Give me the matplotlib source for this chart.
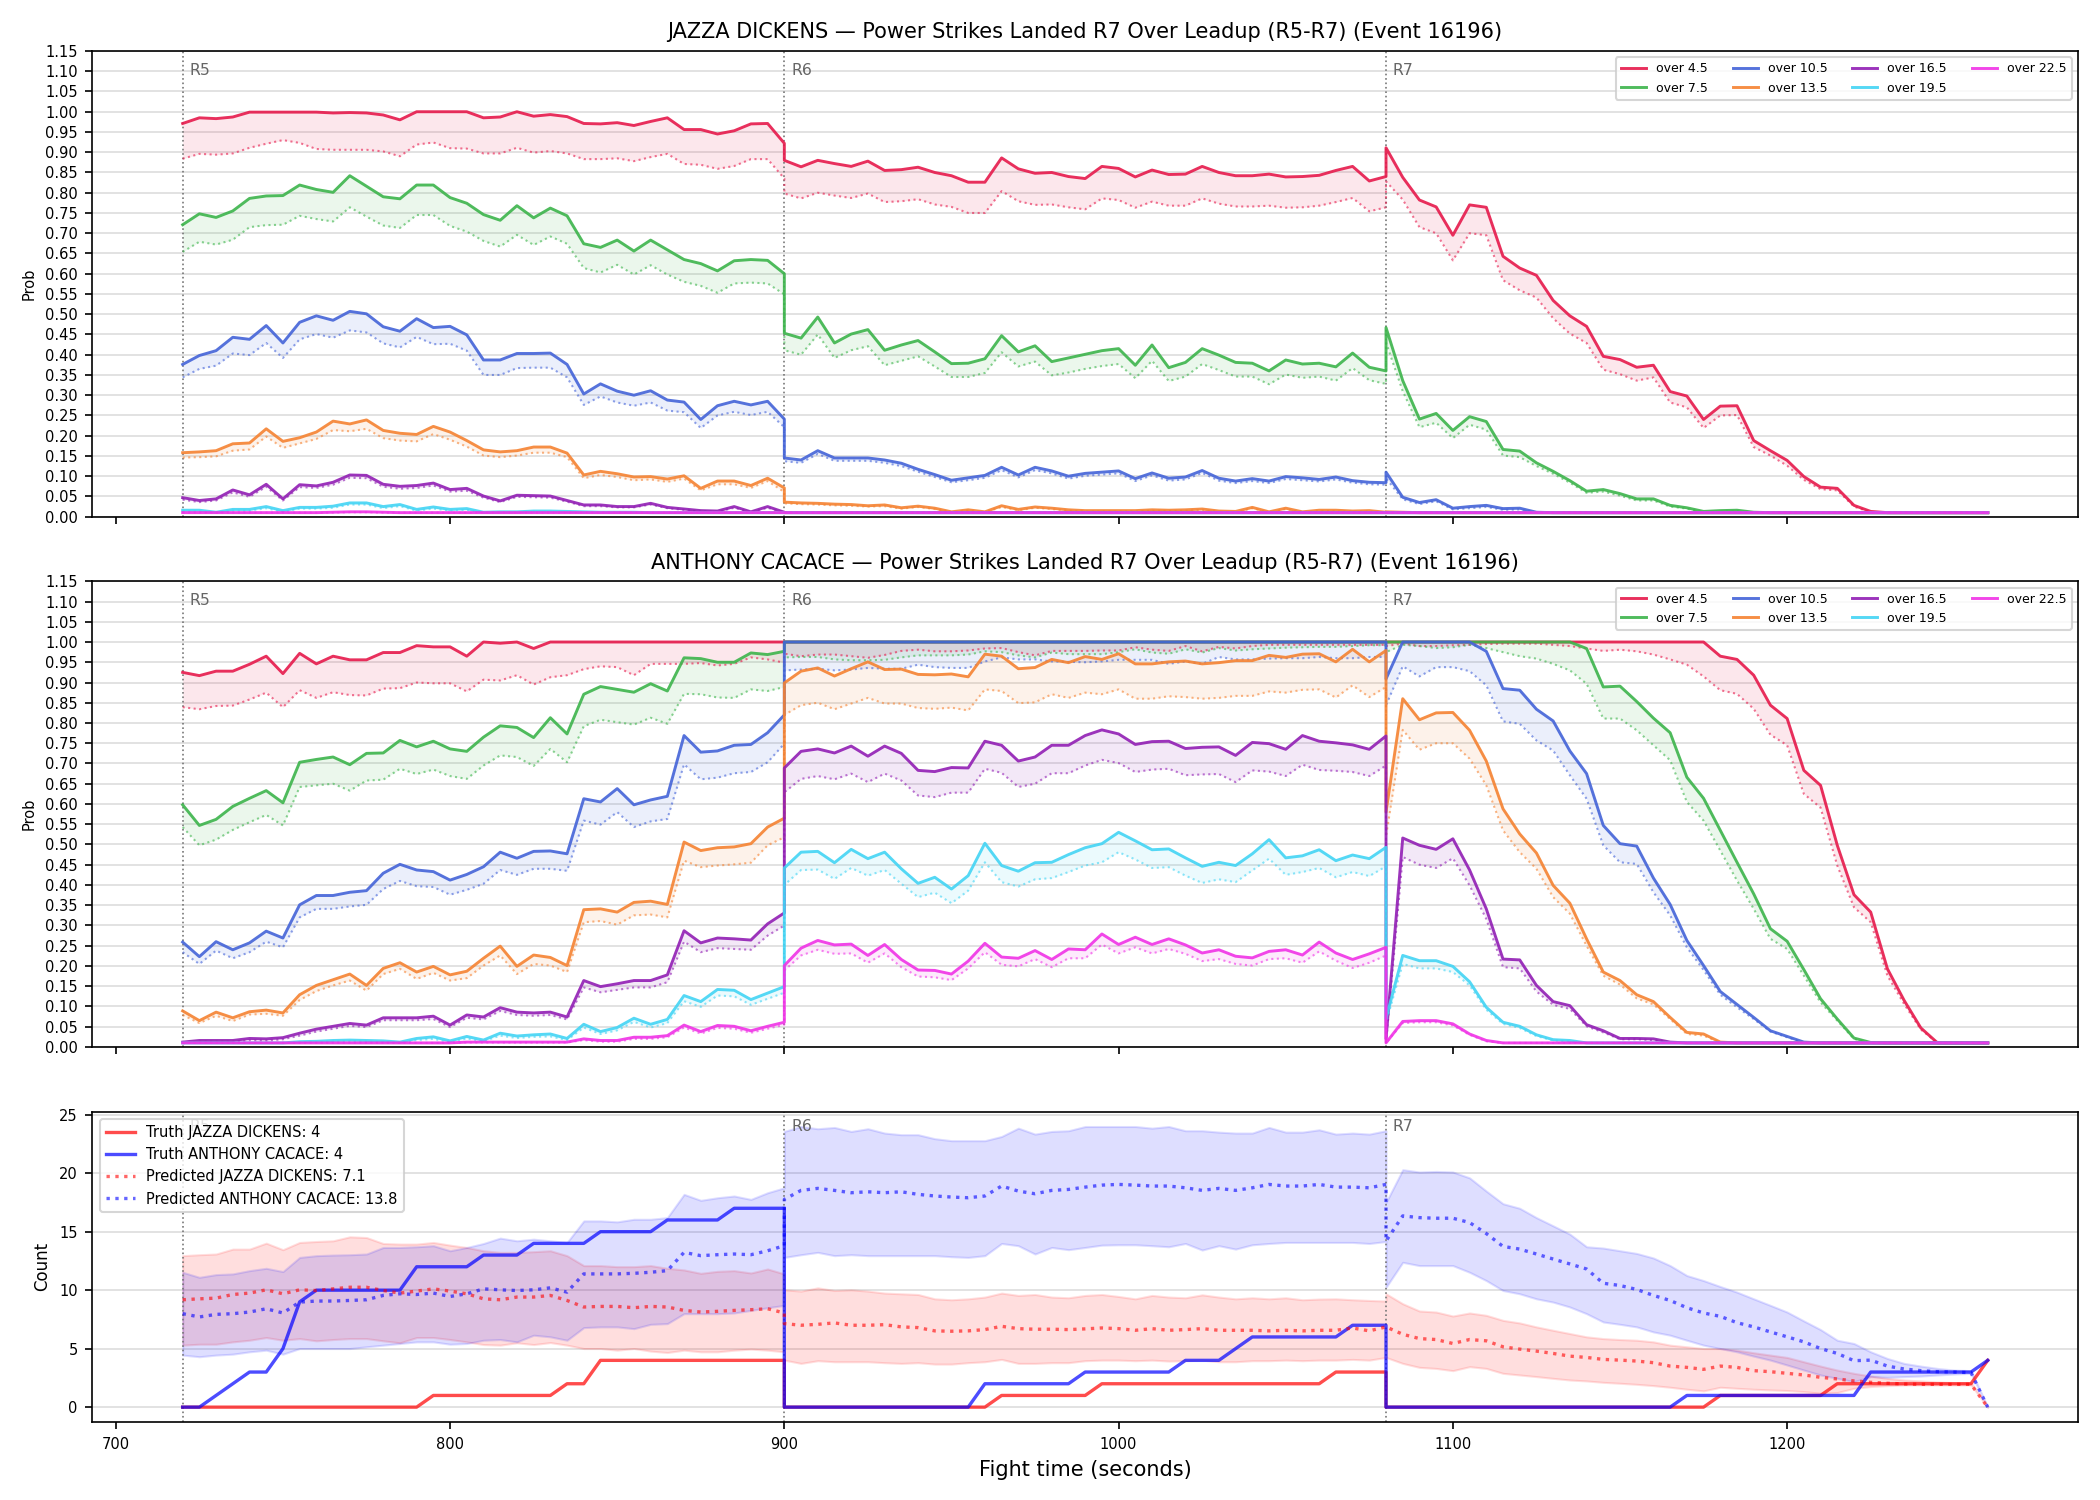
import numpy as np
import matplotlib
matplotlib.use('Agg')
import matplotlib.pyplot as plt
from matplotlib.transforms import blended_transform_factory

# rounds covered by the chart (each round sampled every 5 s, start and end included)
round_names = ['R5', 'R6', 'R7']
round_starts = [720, 900, 1080]
round_len = 180
step = 5

fighters = ['JAZZA DICKENS', 'ANTHONY CACACE']
event_id = 16196
truth_final = [4, 4]
pred_final = [7.1, 13.8]

thresholds = ['over 4.5', 'over 7.5', 'over 10.5', 'over 13.5', 'over 16.5', 'over 19.5', 'over 22.5']
colors = ['#e6194b', '#3cb44b', '#4363d8', '#f58231', '#911eb4', '#42d4f4', '#f032e6']

# ---------------- JAZZA DICKENS: prob (solid) and lower prob (dotted), R5 + R6 + R7
jd_45 = ([.971, .985, .983, .987, .999, .999, .999, .999, .999, .997, .998, .997, .992, .980, 1.0, 1.0, 1.0, 1.0, .985,
          .987, 1.0, .989, .993, .988, .971, .970, .973, .966, .976, .985, .956, .956, .945, .953, .970, .971, .922] +
         [.880, .864, .880, .872, .865, .878, .855, .857, .863, .850, .842, .826, .826, .886, .859, .848, .850, .840, .835,
          .865, .860, .839, .856, .845, .846, .865, .850, .842, .842, .846, .839, .840, .843, .855, .865, .829, .840] +
         [.911, .838, .782, .765, .695, .770, .764, .643, .614, .596, .534, .496, .470, .396, .388, .369, .374, .309, .298,
          .240, .273, .274, .188, .163, .139, .099, .073, .070, .028, .013, .010, .010, .010, .010, .010, .010, .010])
jd_45_lo = ([.884, .896, .894, .897, .911, .921, .930, .923, .908, .906, .906, .906, .902, .890, .919, .924, .910, .909, .897,
             .897, .911, .899, .903, .897, .883, .883, .885, .878, .888, .896, .871, .869, .859, .866, .883, .883, .835] +
            [.798, .786, .800, .793, .787, .798, .777, .779, .784, .771, .765, .750, .750, .804, .779, .770, .771, .764, .759,
             .786, .782, .763, .778, .768, .768, .786, .773, .766, .766, .768, .763, .764, .768, .777, .787, .754, .764] +
            [.828, .783, .715, .700, .633, .700, .695, .584, .559, .541, .490, .452, .429, .363, .352, .336, .344, .282, .270,
             .219, .250, .251, .172, .151, .126, .091, .068, .065, .025, .011, .010, .010, .010, .010, .010, .010, .010])
jd_75 = ([.721, .748, .739, .755, .786, .792, .793, .819, .808, .801, .842, .816, .790, .785, .819, .819, .788, .774, .746,
          .732, .768, .738, .762, .743, .674, .665, .683, .656, .683, .659, .635, .625, .607, .632, .635, .633, .600] +
         [.453, .441, .493, .429, .451, .462, .411, .424, .435, .407, .378, .379, .390, .447, .407, .422, .383, .392, .401,
          .410, .415, .374, .424, .368, .381, .415, .399, .381, .379, .360, .387, .377, .379, .370, .404, .369, .360] +
         [.467, .336, .241, .255, .213, .247, .235, .166, .162, .133, .112, .089, .063, .067, .057, .044, .044, .028, .022,
          .013, .015, .016, .011, .010, .010, .010, .010, .010, .010, .010, .010, .010, .010, .010, .010, .010, .010])
jd_75_lo = ([.654, .679, .672, .684, .715, .720, .721, .743, .735, .729, .764, .741, .719, .713, .745, .745, .718, .704, .681,
             .667, .696, .671, .692, .674, .614, .603, .622, .598, .621, .598, .580, .570, .553, .576, .578, .576, .549] +
            [.411, .400, .450, .392, .411, .421, .374, .385, .396, .371, .345, .345, .355, .406, .371, .383, .349, .356, .365,
             .372, .377, .342, .385, .335, .346, .377, .362, .346, .346, .327, .351, .343, .346, .336, .367, .337, .328] +
            [.430, .310, .221, .232, .194, .227, .215, .151, .147, .125, .106, .084, .059, .062, .052, .040, .040, .025, .020,
             .011, .012, .013, .010, .010, .010, .010, .010, .010, .010, .010, .010, .010, .010, .010, .010, .010, .010])
jd_105 = ([.376, .398, .410, .443, .438, .472, .429, .480, .496, .485, .507, .501, .469, .458, .489, .467, .470, .449, .387,
           .387, .403, .403, .404, .376, .303, .328, .310, .300, .311, .288, .283, .240, .274, .285, .276, .285, .241] +
          [.145, .140, .163, .145, .145, .145, .140, .132, .117, .104, .090, .096, .102, .122, .103, .122, .113, .100, .107,
           .110, .113, .094, .108, .095, .098, .114, .095, .088, .094, .088, .099, .096, .092, .098, .089, .085, .084] +
          [.110, .048, .035, .042, .021, .025, .028, .020, .021, .011, .010, .010, .010, .010, .010, .010, .010, .010, .010,
           .010, .010, .010, .010, .010, .010, .010, .010, .010, .010, .010, .010, .010, .010, .010, .010, .010, .010])
jd_105_lo = ([.344, .365, .373, .403, .399, .429, .392, .438, .451, .442, .460, .455, .428, .418, .444, .426, .427, .410, .350,
              .350, .367, .368, .368, .344, .276, .297, .282, .274, .282, .262, .258, .219, .250, .259, .251, .259, .221] +
             [.137, .133, .155, .138, .138, .138, .133, .125, .111, .098, .085, .090, .096, .115, .097, .115, .107, .094, .101,
              .104, .107, .088, .102, .089, .092, .108, .089, .083, .088, .083, .093, .090, .087, .092, .084, .080, .079] +
             [.095, .043, .031, .038, .018, .021, .024, .017, .018, .010, .010, .010, .010, .010, .010, .010, .010, .010, .010,
              .010, .010, .010, .010, .010, .010, .010, .010, .010, .010, .010, .010, .010, .010, .010, .010, .010, .010])
jd_135 = ([.158, .160, .163, .180, .182, .217, .186, .195, .209, .236, .229, .239, .213, .206, .203, .223, .209, .188, .165,
           .160, .163, .172, .172, .157, .103, .112, .106, .098, .099, .093, .101, .070, .088, .088, .077, .095, .071] +
          [.036, .034, .033, .031, .030, .027, .029, .022, .026, .021, .012, .017, .012, .027, .018, .024, .021, .017, .015,
           .015, .015, .015, .017, .016, .017, .019, .014, .013, .023, .012, .021, .012, .016, .016, .014, .015, .011] +
          [.012, .011, .010, .010, .010, .010, .010, .010, .010, .010, .010, .010, .010, .010, .010, .010, .010, .010, .010,
           .010, .010, .010, .010, .010, .010, .010, .010, .010, .010, .010, .010, .010, .010, .010, .010, .010, .010])
jd_135_lo = ([.146, .147, .149, .163, .166, .198, .170, .181, .192, .214, .211, .217, .194, .188, .186, .204, .190, .173, .151,
              .147, .151, .158, .158, .147, .095, .103, .098, .090, .092, .086, .094, .065, .080, .080, .071, .088, .061] +
             [.033, .031, .030, .028, .027, .025, .026, .020, .024, .019, .011, .015, .011, .024, .016, .022, .019, .015, .013,
              .013, .013, .013, .015, .014, .015, .017, .012, .011, .021, .010, .019, .010, .014, .014, .012, .013, .010] +
             [.010, .010, .010, .010, .010, .010, .010, .010, .010, .010, .010, .010, .010, .010, .010, .010, .010, .010, .010,
              .010, .010, .010, .010, .010, .010, .010, .010, .010, .010, .010, .010, .010, .010, .010, .010, .010, .010])
jd_165 = ([.047, .040, .044, .066, .054, .080, .044, .079, .076, .085, .103, .102, .080, .075, .077, .083, .067, .070, .051,
           .039, .053, .052, .051, .040, .029, .029, .025, .025, .033, .023, .019, .015, .014, .025, .012, .025, .011] +
          [.010, .010, .010, .010, .010, .010, .010, .010, .010, .010, .010, .010, .010, .010, .010, .010, .010, .010, .010,
           .010, .010, .010, .010, .010, .010, .010, .010, .010, .010, .010, .010, .010, .010, .010, .010, .010, .010] +
          [.010, .010, .010, .010, .010, .010, .010, .010, .010, .010, .010, .010, .010, .010, .010, .010, .010, .010, .010,
           .010, .010, .010, .010, .010, .010, .010, .010, .010, .010, .010, .010, .010, .010, .010, .010, .010, .010])
jd_165_lo = ([.042, .036, .040, .060, .049, .074, .040, .073, .071, .079, .096, .095, .074, .069, .071, .077, .062, .064, .047,
              .036, .049, .048, .047, .037, .026, .026, .023, .023, .030, .021, .017, .013, .012, .022, .011, .022, .010] +
             [.010, .010, .010, .010, .010, .010, .010, .010, .010, .010, .010, .010, .010, .010, .010, .010, .010, .010, .010,
              .010, .010, .010, .010, .010, .010, .010, .010, .010, .010, .010, .010, .010, .010, .010, .010, .010, .010] +
             [.010, .010, .010, .010, .010, .010, .010, .010, .010, .010, .010, .010, .010, .010, .010, .010, .010, .010, .010,
              .010, .010, .010, .010, .010, .010, .010, .010, .010, .010, .010, .010, .010, .010, .010, .010, .010, .010])
jd_195 = ([.016, .016, .011, .018, .018, .025, .015, .023, .023, .026, .034, .034, .025, .030, .018, .024, .018, .020, .011,
           .012, .012, .014, .014, .013, .012, .011, .011, .011, .010, .010, .010, .010, .010, .010, .010, .010, .010] +
          [.010, .010, .010, .010, .010, .010, .010, .010, .010, .010, .010, .010, .010, .010, .010, .010, .010, .010, .010,
           .010, .010, .010, .010, .010, .010, .010, .010, .010, .010, .010, .010, .010, .010, .010, .010, .010, .010] +
          [.010, .010, .010, .010, .010, .010, .010, .010, .010, .010, .010, .010, .010, .010, .010, .010, .010, .010, .010,
           .010, .010, .010, .010, .010, .010, .010, .010, .010, .010, .010, .010, .010, .010, .010, .010, .010, .010])
jd_195_lo = ([.013, .013, .010, .015, .015, .021, .012, .020, .020, .022, .030, .030, .021, .026, .015, .020, .015, .017, .010,
              .010, .010, .012, .012, .011, .010, .010, .010, .010, .010, .010, .010, .010, .010, .010, .010, .010, .010] +
             [.010, .010, .010, .010, .010, .010, .010, .010, .010, .010, .010, .010, .010, .010, .010, .010, .010, .010, .010,
              .010, .010, .010, .010, .010, .010, .010, .010, .010, .010, .010, .010, .010, .010, .010, .010, .010, .010] +
             [.010, .010, .010, .010, .010, .010, .010, .010, .010, .010, .010, .010, .010, .010, .010, .010, .010, .010, .010,
              .010, .010, .010, .010, .010, .010, .010, .010, .010, .010, .010, .010, .010, .010, .010, .010, .010, .010])
jd_225 = ([.010, .010, .010, .010, .010, .010, .010, .010, .010, .011, .012, .012, .011, .010, .010, .010, .010, .010, .010,
           .010, .010, .010, .010, .010, .010, .010, .010, .010, .010, .010, .010, .010, .010, .010, .010, .010, .010] +
          [.010, .010, .010, .010, .010, .010, .010, .010, .010, .010, .010, .010, .010, .010, .010, .010, .010, .010, .010,
           .010, .010, .010, .010, .010, .010, .010, .010, .010, .010, .010, .010, .010, .010, .010, .010, .010, .010] +
          [.010, .010, .010, .010, .010, .010, .010, .010, .010, .010, .010, .010, .010, .010, .010, .010, .010, .010, .010,
           .010, .010, .010, .010, .010, .010, .010, .010, .010, .010, .010, .010, .010, .010, .010, .010, .010, .010])
jd_225_lo = ([.010, .010, .010, .010, .010, .010, .010, .010, .010, .010, .011, .011, .010, .010, .010, .010, .010, .010, .010,
              .010, .010, .010, .010, .010, .010, .010, .010, .010, .010, .010, .010, .010, .010, .010, .010, .010, .010] +
             [.010, .010, .010, .010, .010, .010, .010, .010, .010, .010, .010, .010, .010, .010, .010, .010, .010, .010, .010,
              .010, .010, .010, .010, .010, .010, .010, .010, .010, .010, .010, .010, .010, .010, .010, .010, .010, .010] +
             [.010, .010, .010, .010, .010, .010, .010, .010, .010, .010, .010, .010, .010, .010, .010, .010, .010, .010, .010,
              .010, .010, .010, .010, .010, .010, .010, .010, .010, .010, .010, .010, .010, .010, .010, .010, .010, .010])

# ---------------- ANTHONY CACACE
ac_45 = ([.925, .917, .928, .928, .945, .965, .922, .972, .946, .965, .956, .956, .974, .974, .991, .988, .988, .965, 1.0,
          .997, 1.0, .984, 1.0, 1.0, 1.0, 1.0, 1.0, 1.0, 1.0, 1.0, 1.0, 1.0, 1.0, 1.0, 1.0, 1.0, 1.0] +
         [1.0, 1.0, 1.0, 1.0, 1.0, 1.0, 1.0, 1.0, 1.0, 1.0, 1.0, 1.0, 1.0, 1.0, 1.0, 1.0, 1.0, 1.0, 1.0,
          1.0, 1.0, 1.0, 1.0, 1.0, 1.0, 1.0, 1.0, 1.0, 1.0, 1.0, 1.0, 1.0, 1.0, 1.0, 1.0, 1.0, 1.0] +
         [1.0, 1.0, 1.0, 1.0, 1.0, 1.0, 1.0, 1.0, 1.0, 1.0, 1.0, 1.0, 1.0, 1.0, 1.0, 1.0, 1.0, 1.0, 1.0,
          1.0, .965, .957, .918, .844, .811, .683, .646, .498, .376, .333, .193, .115, .047, .010, .010, .010, .010])
ac_45_lo = ([.839, .834, .842, .843, .858, .875, .839, .881, .862, .876, .869, .868, .885, .886, .900, .898, .898, .878, .907,
             .905, .918, .895, .913, .918, .933, .940, .938, .918, .946, .946, .946, .948, .942, .946, .962, .957, .949] +
            [.971, .965, .969, .969, .965, .961, .968, .978, .981, .977, .977, .979, .984, .985, .975, .967, .978, .978, .978,
             .979, .979, .987, .981, .978, .990, .977, .988, .984, .990, .993, .993, .993, .993, .993, .993, .993, .993] +
            [.990, .996, .990, .990, .992, .993, .995, .996, .996, .996, .993, .990, .984, .978, .981, .977, .969, .957, .944,
             .915, .881, .872, .835, .771, .745, .625, .591, .448, .345, .308, .176, .106, .043, .010, .010, .010, .010])
ac_75 = ([.598, .547, .562, .594, .614, .633, .603, .703, .710, .716, .697, .725, .726, .757, .741, .755, .736, .730, .765,
          .793, .789, .764, .813, .773, .871, .890, .883, .876, .897, .879, .961, .959, .950, .950, .973, .969, .977] +
         [1.0, 1.0, 1.0, 1.0, 1.0, 1.0, 1.0, 1.0, 1.0, 1.0, 1.0, 1.0, 1.0, 1.0, 1.0, 1.0, 1.0, 1.0, 1.0,
          1.0, 1.0, 1.0, 1.0, 1.0, 1.0, 1.0, 1.0, 1.0, 1.0, 1.0, 1.0, 1.0, 1.0, 1.0, 1.0, 1.0, 1.0] +
         [1.0, 1.0, 1.0, 1.0, 1.0, 1.0, 1.0, 1.0, 1.0, 1.0, 1.0, 1.0, .984, .889, .891, .853, .812, .776, .666,
          .614, .535, .456, .378, .292, .261, .191, .119, .069, .022, .011, .010, .010, .010, .010, .010, .010, .010])
ac_75_lo = ([.543, .498, .512, .536, .555, .573, .547, .642, .646, .650, .633, .658, .660, .687, .674, .685, .669, .662, .695,
             .720, .716, .694, .736, .703, .792, .808, .802, .796, .813, .798, .872, .871, .863, .862, .883, .879, .889] +
            [.962, .963, .963, .957, .955, .955, .956, .962, .967, .967, .967, .969, .977, .975, .967, .962, .974, .970, .970,
             .970, .975, .982, .974, .971, .982, .974, .985, .979, .982, .984, .986, .987, .988, .988, .990, .992, .992] +
            [.975, .993, .990, .985, .987, .993, .985, .975, .965, .959, .946, .930, .897, .811, .811, .782, .745, .708, .605,
             .559, .485, .411, .341, .267, .242, .176, .110, .065, .020, .010, .010, .010, .010, .010, .010, .010, .010])
ac_105 = ([.259, .223, .260, .240, .257, .286, .269, .351, .374, .374, .382, .386, .429, .451, .437, .433, .412, .426, .445,
           .481, .466, .483, .484, .477, .613, .605, .638, .598, .610, .619, .769, .728, .731, .745, .747, .776, .820] +
          [1.0, 1.0, 1.0, 1.0, 1.0, 1.0, 1.0, 1.0, 1.0, 1.0, 1.0, 1.0, 1.0, 1.0, 1.0, 1.0, 1.0, 1.0, 1.0,
           1.0, 1.0, 1.0, 1.0, 1.0, 1.0, 1.0, 1.0, 1.0, 1.0, 1.0, 1.0, 1.0, 1.0, 1.0, 1.0, 1.0, 1.0] +
          [.909, 1.0, 1.0, 1.0, 1.0, 1.0, .977, .885, .881, .834, .805, .731, .675, .547, .502, .496, .417, .352, .263,
           .201, .137, .105, .073, .040, .026, .012, .010, .010, .010, .010, .010, .010, .010, .010, .010, .010, .010])
ac_105_lo = ([.234, .205, .238, .219, .234, .260, .246, .320, .341, .341, .347, .351, .390, .410, .397, .395, .376, .388, .403,
              .437, .425, .440, .440, .435, .559, .549, .580, .543, .557, .563, .698, .661, .665, .676, .679, .703, .749] +
             [.930, .932, .934, .930, .932, .936, .934, .934, .944, .938, .936, .936, .952, .962, .957, .957, .952, .951, .950,
              .952, .956, .956, .956, .946, .952, .946, .963, .957, .957, .959, .960, .960, .963, .960, .960, .963, .963] +
             [.844, .940, .915, .938, .938, .928, .893, .804, .798, .757, .732, .671, .613, .498, .456, .452, .382, .325, .246,
              .190, .129, .098, .069, .038, .024, .011, .010, .010, .010, .010, .010, .010, .010, .010, .010, .010, .010])
ac_135 = ([.089, .065, .086, .072, .087, .091, .084, .129, .152, .166, .180, .152, .194, .208, .185, .199, .178, .187, .219,
           .249, .199, .227, .221, .201, .339, .341, .333, .357, .360, .352, .506, .485, .492, .494, .502, .543, .565] +
          [.899, .928, .936, .916, .934, .951, .932, .933, .920, .919, .921, .914, .970, .965, .934, .937, .957, .949, .964,
           .957, .971, .946, .946, .951, .953, .946, .949, .954, .954, .967, .962, .970, .971, .951, .982, .951, .979] +
          [.580, .860, .808, .825, .826, .782, .706, .588, .526, .479, .399, .355, .267, .185, .164, .129, .112, .073, .036,
           .032, .012, .010, .010, .010, .010, .010, .010, .010, .010, .010, .010, .010, .010, .010, .010, .010, .010])
ac_135_lo = ([.079, .059, .077, .064, .080, .082, .077, .116, .138, .152, .164, .139, .180, .193, .168, .183, .164, .170, .201,
              .226, .180, .205, .201, .185, .308, .311, .302, .325, .327, .320, .460, .444, .448, .451, .455, .498, .518] +
             [.820, .844, .850, .834, .848, .862, .848, .848, .837, .835, .838, .831, .883, .879, .849, .851, .871, .862, .875,
              .871, .883, .860, .860, .866, .864, .860, .862, .867, .867, .878, .875, .882, .883, .863, .893, .864, .889] +
             [.520, .783, .734, .750, .750, .712, .646, .535, .481, .440, .370, .329, .250, .176, .154, .120, .105, .069, .032,
              .028, .011, .010, .010, .010, .010, .010, .010, .010, .010, .010, .010, .010, .010, .010, .010, .010, .010])
ac_165 = ([.012, .016, .016, .016, .021, .020, .023, .034, .044, .051, .058, .054, .072, .072, .072, .076, .054, .079, .074,
           .097, .086, .084, .086, .074, .164, .149, .156, .164, .164, .178, .287, .257, .269, .267, .264, .304, .331] +
          [.689, .730, .736, .726, .743, .718, .743, .725, .683, .680, .690, .689, .755, .745, .706, .716, .745, .745, .769,
           .783, .773, .747, .754, .755, .737, .740, .741, .720, .752, .749, .735, .769, .755, .751, .746, .735, .768] +
          [.020, .516, .498, .488, .514, .437, .341, .217, .215, .152, .112, .102, .055, .040, .021, .021, .020, .012, .010,
           .010, .010, .010, .010, .010, .010, .010, .010, .010, .010, .010, .010, .010, .010, .010, .010, .010, .010])
ac_165_lo = ([.009, .013, .013, .013, .017, .016, .019, .028, .038, .045, .052, .049, .066, .066, .066, .069, .049, .072, .068,
              .089, .079, .077, .079, .068, .147, .135, .141, .147, .147, .160, .260, .234, .244, .242, .240, .275, .300] +
             [.629, .662, .669, .661, .675, .654, .675, .658, .621, .617, .628, .628, .687, .677, .642, .650, .676, .676, .695,
              .709, .701, .679, .685, .687, .671, .673, .674, .654, .683, .680, .669, .697, .684, .682, .679, .669, .695] +
             [.010, .469, .450, .442, .466, .399, .316, .197, .194, .137, .104, .094, .051, .036, .019, .019, .017, .011, .010,
              .010, .010, .010, .010, .010, .010, .010, .010, .010, .010, .010, .010, .010, .010, .010, .010, .010, .010])
ac_195 = ([.010, .010, .010, .010, .010, .010, .010, .013, .014, .016, .017, .016, .015, .012, .021, .025, .015, .026, .017,
           .034, .027, .030, .032, .021, .056, .038, .048, .071, .056, .068, .127, .112, .142, .140, .117, .133, .149] +
          [.442, .481, .483, .455, .488, .465, .481, .440, .404, .419, .390, .423, .503, .448, .434, .455, .456, .475, .492,
           .502, .530, .509, .487, .489, .467, .446, .456, .448, .477, .512, .467, .472, .487, .460, .474, .465, .493] +
          [.070, .226, .213, .213, .199, .161, .098, .061, .051, .030, .018, .016, .010, .010, .010, .010, .010, .010, .010,
           .010, .010, .010, .010, .010, .010, .010, .010, .010, .010, .010, .010, .010, .010, .010, .010, .010, .010])
ac_195_lo = ([.010, .010, .010, .010, .010, .010, .010, .011, .012, .013, .014, .013, .012, .010, .017, .020, .012, .021, .014,
              .028, .022, .025, .026, .017, .048, .032, .041, .062, .048, .059, .113, .099, .127, .125, .104, .119, .134] +
             [.400, .437, .438, .415, .442, .423, .437, .403, .370, .381, .355, .386, .456, .407, .396, .414, .417, .432, .448,
              .456, .481, .463, .442, .444, .423, .405, .414, .407, .436, .465, .425, .432, .442, .419, .432, .422, .446] +
             [.060, .205, .194, .194, .185, .152, .092, .057, .047, .027, .016, .014, .010, .010, .010, .010, .010, .010, .010,
              .010, .010, .010, .010, .010, .010, .010, .010, .010, .010, .010, .010, .010, .010, .010, .010, .010, .010])
ac_225 = ([.010, .010, .010, .010, .010, .010, .010, .010, .010, .010, .010, .010, .010, .010, .010, .010, .010, .012, .012,
           .012, .012, .012, .012, .012, .020, .016, .016, .024, .024, .028, .054, .038, .053, .051, .040, .051, .061] +
          [.201, .244, .263, .252, .254, .226, .253, .216, .190, .189, .180, .212, .256, .222, .219, .238, .216, .242, .240,
           .279, .253, .271, .253, .267, .252, .232, .240, .224, .220, .236, .240, .227, .259, .232, .216, .230, .246] +
          [.010, .063, .065, .065, .057, .032, .016, .010, .010, .010, .010, .010, .010, .010, .010, .010, .010, .010, .010,
           .010, .010, .010, .010, .010, .010, .010, .010, .010, .010, .010, .010, .010, .010, .010, .010, .010, .010])
ac_225_lo = ([.010, .010, .010, .010, .010, .010, .010, .010, .010, .010, .010, .010, .010, .010, .010, .010, .010, .011, .011,
              .011, .011, .011, .011, .011, .017, .013, .013, .020, .020, .024, .048, .033, .047, .045, .035, .045, .055] +
             [.189, .226, .240, .230, .231, .208, .231, .197, .174, .172, .165, .194, .234, .203, .199, .217, .197, .219, .219,
              .253, .231, .246, .231, .242, .230, .212, .217, .205, .201, .217, .219, .208, .236, .213, .195, .208, .226] +
             [.010, .059, .061, .061, .053, .030, .014, .010, .010, .010, .010, .010, .010, .010, .010, .010, .010, .010, .010,
              .010, .010, .010, .010, .010, .010, .010, .010, .010, .010, .010, .010, .010, .010, .010, .010, .010, .010])

# ---------------- counts: truth and predicted (with band)
truth_jd = ([0, 0, 0, 0, 0, 0, 0, 0, 0, 0, 0, 0, 0, 0, 0, 1, 1, 1, 1, 1, 1, 1, 1, 2, 2, 4, 4, 4, 4, 4, 4, 4, 4, 4, 4, 4, 4] +
            [0, 0, 0, 0, 0, 0, 0, 0, 0, 0, 0, 0, 0, 1, 1, 1, 1, 1, 1, 2, 2, 2, 2, 2, 2, 2, 2, 2, 2, 2, 2, 2, 2, 3, 3, 3, 3] +
            [0, 0, 0, 0, 0, 0, 0, 0, 0, 0, 0, 0, 0, 0, 0, 0, 0, 0, 0, 0, 1, 1, 1, 1, 1, 1, 1, 2, 2, 2, 2, 2, 2, 2, 2, 2, 4])
truth_ac = ([0, 0, 1, 2, 3, 3, 5, 9, 10, 10, 10, 10, 10, 10, 12, 12, 12, 12, 13, 13, 13, 14, 14, 14, 14, 15, 15, 15, 15,
             16, 16, 16, 16, 17, 17, 17, 17] +
            [0, 0, 0, 0, 0, 0, 0, 0, 0, 0, 0, 0, 2, 2, 2, 2, 2, 2, 3, 3, 3, 3, 3, 3, 4, 4, 4, 5, 6, 6, 6, 6, 6, 6, 7, 7, 7] +
            [0, 0, 0, 0, 0, 0, 0, 0, 0, 0, 0, 0, 0, 0, 0, 0, 0, 0, 1, 1, 1, 1, 1, 1, 1, 1, 1, 1, 1, 3, 3, 3, 3, 3, 3, 3, 4])
pred_jd = ([9.18, 9.26, 9.32, 9.63, 9.75, 10.03, 9.69, 10.03, 9.97, 10.11, 10.25, 10.25, 9.97, 9.75, 9.92, 10.11, 9.92,
            9.69, 9.26, 9.18, 9.41, 9.41, 9.55, 9.12, 8.56, 8.61, 8.61, 8.50, 8.61, 8.56, 8.27, 8.13, 8.19, 8.27, 8.33,
            8.41, 8.05] +
           [7.14, 7.00, 7.08, 7.20, 7.00, 7.00, 7.05, 6.86, 6.80, 6.52, 6.49, 6.52, 6.63, 6.91, 6.71, 6.66, 6.66, 6.63,
            6.69, 6.77, 6.71, 6.57, 6.71, 6.57, 6.63, 6.71, 6.57, 6.57, 6.57, 6.52, 6.57, 6.52, 6.57, 6.57, 6.77, 6.52,
            6.86] +
           [6.86, 6.23, 5.86, 5.78, 5.44, 5.78, 5.67, 5.16, 4.96, 4.79, 4.59, 4.36, 4.25, 4.08, 4.02, 3.94, 3.80, 3.51,
            3.40, 3.23, 3.51, 3.40, 3.12, 3.03, 2.89, 2.75, 2.55, 2.41, 2.24, 2.12, 2.04, 1.98, 1.95, 1.95, 1.95, 1.95,
            0.0])
pred_jd_hi = ([12.95, 13.03, 13.09, 13.51, 13.51, 14.02, 13.46, 14.08, 14.16, 14.22, 14.56, 14.50, 13.99, 13.94, 13.94,
               14.08, 13.85, 13.65, 13.37, 13.23, 13.23, 13.29, 13.37, 12.95, 12.10, 12.10, 12.01, 12.01, 12.10, 11.87,
               11.73, 11.44, 11.61, 11.67, 11.47, 11.81, 11.39] +
              [10.03, 9.92, 10.20, 9.97, 10.03, 9.92, 9.75, 9.69, 9.63, 9.26, 9.18, 9.26, 9.41, 9.75, 9.55, 9.63, 9.41,
               9.35, 9.55, 9.63, 9.46, 9.26, 9.55, 9.41, 9.35, 9.60, 9.41, 9.26, 9.35, 9.26, 9.35, 9.18, 9.24, 9.26,
               9.18, 9.12, 9.07] +
              [9.69, 8.84, 8.22, 8.13, 7.79, 8.05, 7.85, 7.42, 7.20, 6.86, 6.57, 6.29, 6.01, 5.86, 5.78, 5.72, 5.58,
               5.30, 5.16, 5.01, 5.01, 4.87, 4.65, 4.45, 4.25, 3.88, 3.51, 3.17, 2.89, 2.66, 2.46, 2.32, 2.24, 2.15,
               2.10, 2.10, 0.0])
pred_jd_lo = ([5.30, 5.38, 5.38, 5.58, 5.72, 5.95, 5.72, 5.86, 5.67, 5.78, 5.86, 5.86, 5.67, 5.50, 5.95, 5.95, 5.78, 5.58,
               5.35, 5.30, 5.50, 5.35, 5.52, 5.30, 5.01, 5.01, 4.87, 5.01, 4.79, 4.67, 4.87, 4.73, 4.73, 4.87, 4.96,
               4.87, 4.73] +
              [4.02, 3.74, 3.97, 3.88, 3.88, 3.88, 3.80, 3.74, 3.80, 3.68, 3.68, 3.80, 3.88, 4.08, 3.74, 3.74, 3.80, 3.80,
               3.97, 4.02, 4.02, 3.97, 4.02, 3.94, 3.97, 4.02, 3.88, 3.88, 3.97, 3.97, 4.02, 3.97, 4.02, 4.02, 4.08,
               4.02, 4.25] +
              [4.25, 3.74, 3.40, 3.31, 3.12, 3.46, 3.31, 2.89, 2.75, 2.61, 2.46, 2.32, 2.24, 2.12, 2.04, 1.95, 1.84, 1.70,
               1.53, 1.39, 1.70, 1.61, 1.53, 1.47, 1.42, 1.33, 1.19, 1.25, 1.61, 1.76, 1.84, 1.90, 1.90, 1.90, 1.90,
               1.90, 0.0])
pred_ac = ([7.99, 7.71, 7.93, 7.99, 8.13, 8.41, 8.05, 8.98, 9.07, 9.07, 9.12, 9.18, 9.55, 9.69, 9.63, 9.75, 9.46, 9.69,
            10.11, 10.03, 9.97, 10.03, 10.20, 9.83, 11.39, 11.39, 11.39, 11.44, 11.53, 11.67, 13.23, 12.95, 13.03, 13.09,
            13.03, 13.37, 13.80] +
           [17.76, 18.53, 18.70, 18.53, 18.33, 18.41, 18.33, 18.41, 18.19, 18.05, 17.96, 17.90, 18.05, 18.90, 18.47,
            18.24, 18.53, 18.61, 18.81, 18.98, 19.04, 18.98, 18.90, 18.90, 18.75, 18.53, 18.70, 18.53, 18.75, 19.04,
            18.90, 18.90, 19.04, 18.81, 18.81, 18.75, 19.04] +
           [14.20, 16.35, 16.20, 16.15, 16.15, 15.78, 14.84, 13.74, 13.51, 13.09, 12.66, 12.24, 11.81, 10.59, 10.40,
            10.06, 9.55, 9.12, 8.50, 8.05, 7.76, 7.22, 6.86, 6.43, 6.01, 5.58, 5.01, 4.59, 3.97, 4.02, 3.51, 3.26, 3.12,
            3.03, 3.00, 2.95, 0.0])
pred_ac_hi = ([11.53, 11.10, 11.33, 11.39, 11.67, 11.87, 11.59, 12.80, 12.95, 13.00, 13.03, 13.09, 13.65, 13.65, 13.71,
               13.80, 13.37, 13.65, 13.99, 14.45, 14.22, 14.36, 14.22, 14.08, 15.92, 15.92, 15.84, 16.06, 16.06, 16.20,
               18.19, 17.68, 17.90, 18.05, 17.76, 18.33, 18.75] +
              [23.57, 23.99, 23.80, 23.91, 23.57, 23.80, 23.43, 23.29, 23.29, 22.95, 22.78, 22.78, 22.78, 23.14, 23.85,
               23.34, 23.57, 23.63, 23.99, 23.99, 23.99, 23.99, 23.85, 23.99, 23.63, 23.63, 23.51, 23.43, 23.43, 23.91,
               23.51, 23.51, 23.71, 23.34, 23.43, 23.34, 23.63] +
              [17.50, 20.30, 20.10, 20.15, 20.10, 19.60, 18.47, 17.39, 17.00, 16.20, 15.50, 14.79, 13.71, 13.60, 13.37,
               13.14, 12.75, 12.10, 11.25, 10.82, 10.31, 9.83, 9.26, 8.70, 8.13, 7.37, 6.63, 5.72, 5.44, 4.73, 4.16,
               3.74, 3.51, 3.31, 3.17, 3.12, 0.0])
pred_ac_lo = ([4.45, 4.31, 4.45, 4.53, 4.73, 4.87, 4.53, 5.01, 5.01, 5.01, 5.01, 5.16, 5.30, 5.44, 5.58, 5.58, 5.38, 5.44,
               5.72, 5.78, 5.58, 6.15, 6.01, 5.72, 6.80, 6.86, 6.86, 6.71, 7.08, 7.14, 7.99, 7.99, 7.99, 8.05, 8.27,
               8.50, 8.70] +
              [12.80, 13.03, 13.23, 12.95, 13.03, 12.95, 12.95, 12.95, 12.95, 12.95, 12.86, 12.80, 12.95, 13.99, 13.80,
               13.09, 13.65, 13.46, 13.65, 13.85, 13.88, 13.88, 13.80, 13.71, 13.99, 13.43, 13.80, 13.51, 13.88, 13.99,
               14.08, 14.08, 14.08, 14.08, 14.08, 13.99, 14.16] +
              [10.25, 12.38, 12.10, 12.10, 12.10, 11.53, 10.82, 9.97, 9.69, 9.26, 8.98, 8.56, 7.99, 7.28, 7.08, 6.86,
               6.43, 6.15, 5.72, 5.30, 5.01, 4.73, 4.36, 4.02, 3.60, 3.17, 2.75, 2.46, 2.18, 2.61, 2.55, 2.61, 2.66,
               2.75, 2.83, 2.89, 0.0])

# sample times: every round from its start to its end (boundary repeated)
t = np.concatenate([np.arange(s, s + round_len + 1, step) for s in round_starts])

jd_series = [(jd_45, jd_45_lo), (jd_75, jd_75_lo), (jd_105, jd_105_lo), (jd_135, jd_135_lo),
             (jd_165, jd_165_lo), (jd_195, jd_195_lo), (jd_225, jd_225_lo)]
ac_series = [(ac_45, ac_45_lo), (ac_75, ac_75_lo), (ac_105, ac_105_lo), (ac_135, ac_135_lo),
             (ac_165, ac_165_lo), (ac_195, ac_195_lo), (ac_225, ac_225_lo)]

fig, axes = plt.subplots(3, 1, figsize=(14, 10), dpi=150, sharex=True,
                         gridspec_kw={'height_ratios': [3, 3, 2]})
fig.subplots_adjust(left=0.044, right=0.9895, top=0.966, bottom=0.052, hspace=0.156)


def mark_rounds(ax):
    tr = blended_transform_factory(ax.transData, ax.transAxes)
    for name, s in zip(round_names, round_starts):
        ax.axvline(s, color='#777777', ls=':', lw=0.8, zorder=1)
        ax.text(s + 2, 0.975, name, transform=tr, va='top', ha='left', fontsize=7.5, color='#666666')


for ax, series, fighter in zip(axes[:2], [jd_series, ac_series], fighters):
    for name, col, (hi, lo) in zip(thresholds, colors, series):
        ax.fill_between(t, lo, hi, color=col, alpha=0.1, lw=0)
        ax.plot(t, lo, color=col, lw=1.0, ls=':', alpha=0.6)
        ax.plot(t, hi, color=col, lw=1.4, alpha=0.9, label=name)
    mark_rounds(ax)
    ax.set_ylim(0, 1.15)
    ax.set_yticks(np.arange(0, 1.151, 0.05))
    ax.yaxis.set_major_formatter(plt.FormatStrFormatter('%.2f'))
    ax.grid(axis='y', color='#dddddd', lw=0.8)
    ax.set_axisbelow(True)
    ax.set_ylabel('Prob', fontsize=7)
    ax.tick_params(labelsize=7)
    ax.set_title(f'{fighter} \u2014 Power Strikes Landed R7 Over Leadup (R5-R7) (Event {event_id})', fontsize=10)
    ax.legend(loc='upper right', ncol=4, fontsize=6)

ax = axes[2]
ax.fill_between(t, pred_jd_lo, pred_jd_hi, color='red', alpha=0.13)
ax.fill_between(t, pred_ac_lo, pred_ac_hi, color='blue', alpha=0.13)
ax.plot(t, truth_jd, color='red', lw=1.6, alpha=0.7, label=f'Truth {fighters[0]}: {truth_final[0]}')
ax.plot(t, truth_ac, color='blue', lw=1.6, alpha=0.7, label=f'Truth {fighters[1]}: {truth_final[1]}')
ax.plot(t, pred_jd, color='red', lw=1.6, ls=':', alpha=0.6, label=f'Predicted {fighters[0]}: {pred_final[0]}')
ax.plot(t, pred_ac, color='blue', lw=1.6, ls=':', alpha=0.6, label=f'Predicted {fighters[1]}: {pred_final[1]}')
mark_rounds(ax)
ax.set_ylim(-1.27, 25.27)
ax.set_xlim(693, 1287)
ax.grid(axis='y', color='#dddddd', lw=0.8)
ax.set_axisbelow(True)
ax.set_ylabel('Count', fontsize=8)
ax.set_xlabel('Fight time (seconds)', fontsize=10)
ax.tick_params(labelsize=7)
ax.legend(loc='upper left', fontsize=7)

fig.savefig('out.png', dpi=150)
